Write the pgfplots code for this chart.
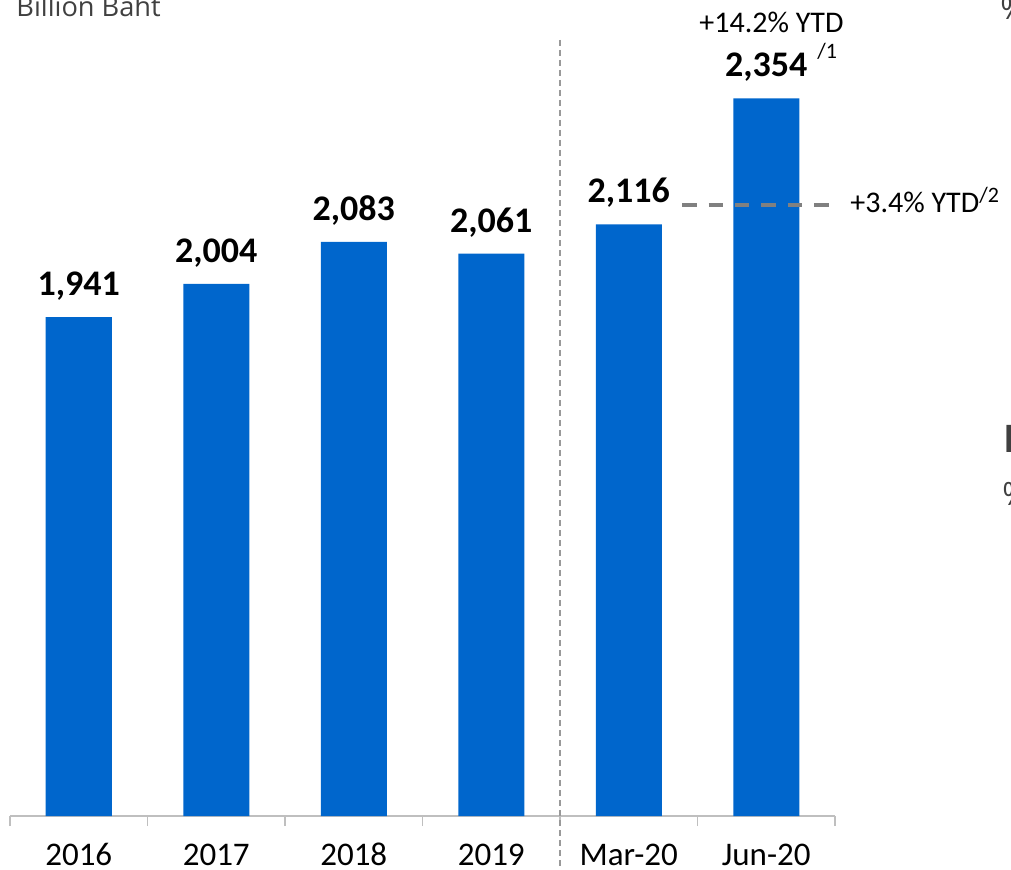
\documentclass[border=0pt]{standalone}
\usepackage{pgfplots}
\pgfplotsset{compat=1.18}
\usepackage{pgfplotstable}
\usepackage{fontspec}
\setmainfont{Carlito}
\newfontfamily\segoe{Open Sans}
\definecolor{barblue}{RGB}{0,102,204}
\definecolor{dgray}{RGB}{64,64,64}
\definecolor{mgray}{RGB}{128,128,128}
\definecolor{lgray}{RGB}{191,191,191}
\pgfplotstableread{
x y lab
0 1941 {1,941}
1 2004 {2,004}
2 2083 {2,083}
3 2061 {2,061}
4 2116 {2,116}
5 2354 {2,354}
}\datatable
\begin{document}
\begin{tikzpicture}[x=1pt,y=1pt]
\useasboundingbox (0,0) rectangle (505.5,434.5);
\begin{axis}[
  at={(5pt,26.5pt)}, anchor=south west,
  scale only axis, width=412.5pt, height=388pt,
  xmin=-0.5, xmax=5.5, ymin=1000, ymax=2464,
  axis x line*=bottom, axis y line=none,
  axis line style={lgray, line width=0.8pt},
  xtick={0,...,5},
  xticklabels={2016,2017,2018,2019,Mar-20,Jun-20},
  major tick length=0pt,
  minor xtick={-0.5,0.5,...,5.5},
  minor tick length=5pt,
  xtick align=outside,
  minor tick style={lgray, line width=0.8pt},
  xticklabel style={anchor=base, yshift=-24.5pt, inner sep=0pt, text depth=0pt, font=\fontsize{16.5}{16.5}\selectfont},
  ybar, bar width=33pt,
  clip=false,
  nodes near coords,
  point meta=explicit symbolic,
  every node near coord/.append style={anchor=base, yshift=10.75pt, inner sep=0pt, font=\bfseries\fontsize{18}{18}\selectfont, text=black},
]
\addplot[fill=barblue, draw=none] table[x=x,y=y,meta=lab]{\datatable};
\draw[color=mgray!80, line width=0.75pt, dash pattern=on 3pt off 2pt]
  (axis cs:3.5,2464) -- ([yshift=-27pt]axis cs:3.5,1000);
\draw[color=mgray, line width=2pt, dash pattern=on 7.2pt off 6pt]
  (axis cs:4.389,2153) -- (axis cs:5.48,2153);
\end{axis}
\node[anchor=base, inner sep=0pt, font=\fontsize{15}{15}\selectfont] at (385.75,418) {+14.2\% YTD};
\node[anchor=base west, inner sep=0pt, font=\fontsize{11}{11}\selectfont] at (408.5,405) {/1};
\node[anchor=base west, inner sep=0pt, font=\fontsize{15}{15}\selectfont] at (425,328) {+3.4\% YTD\raisebox{5pt}{\fontsize{11}{11}\selectfont/2}};
\node[anchor=base west, inner sep=0pt, text=dgray, font=\segoe\fontsize{13.6}{13.6}\selectfont] at (8,426) {Billion Baht};
\node[anchor=base west, inner sep=0pt, text=dgray, font=\segoe\fontsize{16}{16}\selectfont] at (500,424.5) {\%};
\node[anchor=base west, inner sep=0pt, text=dgray, font=\segoe\bfseries\fontsize{19}{19}\selectfont] at (501.5,208.5) {L};
\node[anchor=base west, inner sep=0pt, text=dgray, font=\segoe\fontsize{16}{16}\selectfont] at (501,182) {\%};
\end{tikzpicture}
\end{document}
